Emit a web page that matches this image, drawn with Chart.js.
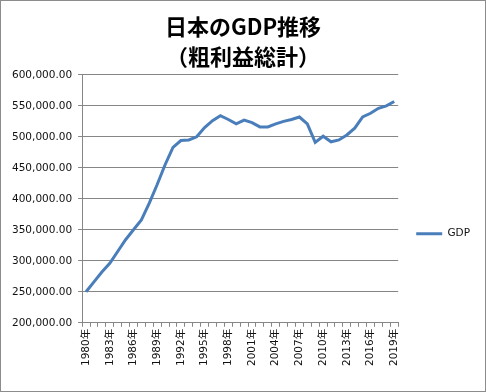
<!DOCTYPE html>
<html>
<head>
<meta charset="utf-8">
<script src="https://cdn.jsdelivr.net/npm/chart.js@4"></script>
<style>
  html, body { margin: 0; padding: 0; background: #fff; }
  #wrap { width: 484px; height: 390px; border: 1px solid #8c8c8c; }
</style>
</head>
<body>
<div id="wrap"><canvas id="gdpChart" width="484" height="390"></canvas></div>
<script>
const years = [];
for (let y = 1980; y <= 2019; y++) years.push(y + '年');

// 名目GDP（10億円）グラフから読み取り
const gdp = [
  250000, 266000, 282000, 296000, 315000, 334000, 350000, 366000, 393000, 423000,
  455000, 483000, 494000, 495000, 500000, 515000, 526000, 534000, 528000, 521000,
  527000, 523000, 516000, 516000, 521000, 525000, 528000, 532000, 521000, 491000,
  501000, 492000, 495000, 503000, 514000, 532000, 538000, 546000, 550000, 557000
];

const yMin = 200000;
const yMax = 600000;
const yStep = 50000;

const titleLines = ['日本のGDP推移', '（粗利益総計）'];

const baseFont = "'DejaVu Sans', 'Noto Sans CJK JP', sans-serif";
const gridColor = '#868686';

const ctx = document.getElementById('gdpChart').getContext('2d');
new Chart(ctx, {
  type: 'line',
  data: {
    labels: years,
    datasets: [{
      label: 'GDP',
      data: gdp,
      borderColor: '#4A7EBB',
      backgroundColor: '#4A7EBB',
      borderWidth: 3,
      pointRadius: 0,
      tension: 0,
      fill: false
    }]
  },
  options: {
    responsive: false,
    animation: false,
    layout: { padding: { left: 5, right: 5, top: 4, bottom: 23 } },
    scales: {
      x: {
        offset: true,
        grid: { offset: true, drawOnChartArea: false, drawTicks: true, tickLength: 4, color: gridColor },
        border: { color: gridColor },
        ticks: {
          autoSkip: false,
          maxRotation: 90,
          minRotation: 90,
          padding: 2,
          color: '#111',
          font: { family: baseFont, size: 10.5 },
          callback: function (v, i) { return i % 3 === 0 ? years[i] : ''; }
        }
      },
      y: {
        min: yMin,
        max: yMax,
        grid: { color: gridColor, tickLength: 4 },
        border: { color: gridColor },
        ticks: {
          stepSize: yStep,
          padding: 6,
          color: '#111',
          font: { family: baseFont, size: 10.5 },
          callback: function (v) {
            return v.toLocaleString('en-US', { minimumFractionDigits: 2, maximumFractionDigits: 2 });
          }
        }
      }
    },
    plugins: {
      title: {
        display: true,
        text: titleLines,
        color: '#000',
        font: { family: "'Noto Sans CJK JP', sans-serif", size: 22, weight: 'bold', lineHeight: 1.36 },
        padding: { top: 7, bottom: 3 }
      },
      legend: {
        position: 'right',
        title: { display: true, text: ' ', padding: { top: 80, bottom: 0 } },
        labels: {
          usePointStyle: true,
          pointStyle: 'line',
          pointStyleWidth: 26,
          color: '#111',
          font: { family: baseFont, size: 10.5 },
          padding: 18
        }
      },
      tooltip: { enabled: false }
    }
  }
});
</script>
</body>
</html>
